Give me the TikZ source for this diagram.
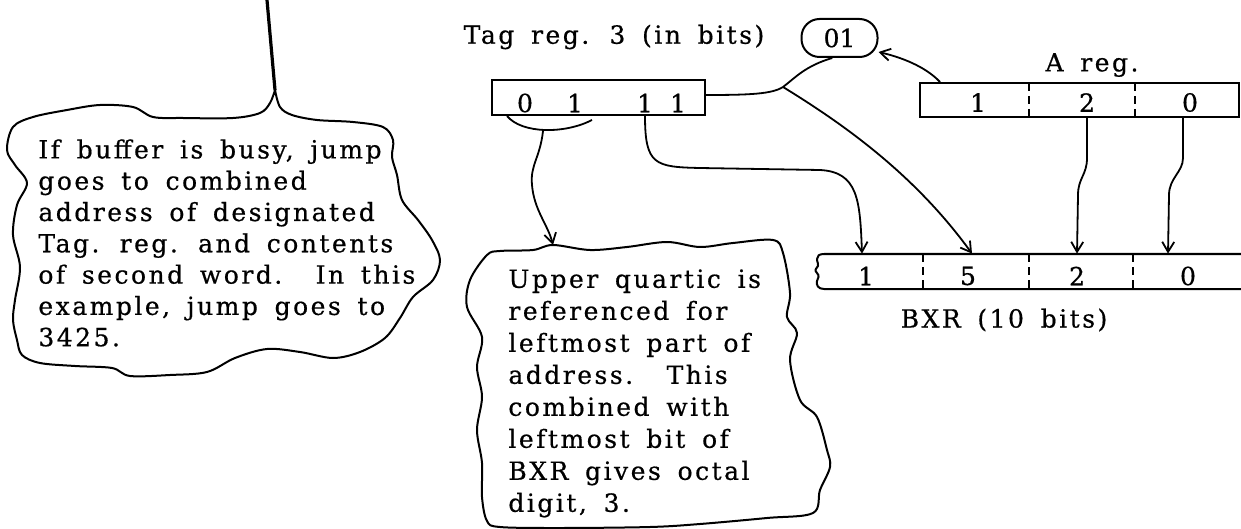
\documentclass[tikz,border=0pt]{standalone}
\usepackage{fontspec}
\usetikzlibrary{arrows.meta}
\newfontfamily\typeface[LetterSpace=10,WordSpace=1.6,FakeBold=0.6]{DejaVu Serif}
\begin{document}
\begin{tikzpicture}[x=0.5pt,y=-0.5pt,
  every node/.style={font=\typeface\fontsize{12.5}{15.65}\selectfont, inner sep=0pt},
  regbox/.style={draw, line width=1pt, minimum height=17.5pt},
  regpill/.style={draw, line width=1pt, rounded corners=9pt, minimum width=38pt, minimum height=19pt},
  wire/.style={line width=0.9pt},
  arr/.style={wire, -{Straight Barb[length=5pt,width=6pt]}},
  outline/.style={line width=1pt, line join=round, line cap=round},
  divider/.style={line width=0.8pt, dash pattern=on 4pt off 2.5pt},
  note/.style={align=left, anchor=north west}
]
\useasboundingbox (0,0) rectangle (1241,529);

% ---- tag register ----
\node (taglabel) at (614,37) {Tag reg. 3 (in bits)};
\node[regbox, minimum width=106.5pt] (tag) at (598.5,97.5) {};
\node (t1) at (525,103) {0};
\node (t2) at (575,103) {1};
\node (t3) at (645,103) {1};
\node (t4) at (678,103) {1};

% ---- designated tag value ----
\node[regpill] (reg01) at (839.5,38) {\addfontfeature{LetterSpace=0}01};

% ---- A register ----
\node (alabel) at (1092,65) {A reg.};
\node[regbox, minimum width=159.5pt, minimum height=17pt] (areg) at (1079.5,100) {};
\node (a1) at (978,102.5) {1};
\node (a2) at (1087,102.5) {2};
\node (a3) at (1190,102.5) {0};
\draw[divider] (1029,83) -- (1029,117);
\draw[divider] (1135,83) -- (1135,117);

% ---- BXR (open on the right, torn on the left) ----
\node[minimum width=212pt, minimum height=17.5pt] (bxr) at (1029,271.5) {};
\draw[outline] (1241,254) -- (824,254)
  .. controls (819,254) and (817,256) .. (817,259)
  .. controls (817,263) and (819,264) .. (818,266)
  .. controls (816,269) and (814,270) .. (817,273)
  .. controls (820,276) and (818,278) .. (817,281)
  .. controls (816,285) and (818,289) .. (824,289) -- (1241,289);
\draw[divider] (923,254) -- (923,289);
\draw[divider] (1029,254) -- (1029,289);
\draw[divider] (1133,254) -- (1133,289);
\node (b1) at (866,276) {1};
\node (b2) at (968,276) {5};
\node (b3) at (1077,276) {2};
\node (b4) at (1188,276) {0};
\node (bxrlabel) at (1004,320) {BXR (10 bits)};

% ---- note: buffer busy ----
\draw[outline, line width=1.6pt] (267,0) -- (275,90);
\draw[outline] plot[smooth, tension=0.55] coordinates {
  (275,90) (280,107) (292,115) (317,120) (353,122) (383,127) (393,140)
  (392,157) (397,175) (402,200) (418,220) (432,240) (440,260) (433,280)
  (413,297) (400,318) (385,338) (360,352) (333,358) (300,352) (267,349)
  (235,358) (207,372) (170,375) (130,376) (112,368) (75,366) (40,363)
  (22,355) (17,340) (13,320) (15,300) (20,267) (13,235) (17,205)
  (27,183) (15,165) (7,150) (13,127) (33,117) (67,110) (100,105)
  (133,107) (153,117) (183,118) (233,118) (260,113) (270,103) (275,90)};
\node[note] (busy) at (38,139) {If buffer is busy, jump\\goes to combined\\address of designated\\Tag. reg. and contents\\of second word.\ \ In this\\example, jump goes to\\3425.};

% ---- note: upper quartic ----
\draw[outline] plot[smooth cycle, tension=0.55] coordinates {
  (487,255) (500,251) (533,250) (553,245) (590,250) (627,247) (667,242)
  (700,247) (733,243) (773,240) (783,253) (790,293) (787,317) (797,333)
  (790,360) (800,400) (817,417) (827,450) (830,467) (820,490) (813,513)
  (767,518) (700,524) (650,527) (560,528) (500,527) (487,521) (482,497)
  (482,463) (477,430) (482,397) (477,367) (482,337) (467,307) (470,280)};
\coordinate (uqtop) at (553,245);
\node[note, font=\typeface\fontsize{12.5}{16}\selectfont] (quartic) at (508,269) {Upper quartic is\\referenced for\\leftmost part of\\address.\ \ This\\combined with\\leftmost bit of\\BXR gives octal\\digit, 3.};

% ---- bracket under the upper two bits ----
\draw[wire] (507,116) .. controls (522,134) and (565,134) .. (592,120);
\coordinate (brk) at (543,131);

% ---- connectors ----
\coordinate (br) at (783,87);
\draw[wire] (tag.east |- 0,95) .. controls (750,95) and (772,94) .. (br)
  .. controls (795,78) and (805,66) .. (reg01.250);
\draw[arr] (br) .. controls (845,125) and (915,175) .. ([xshift=2pt]b2 |- bxr.north);
\draw[arr] (areg.north west -| 940,0) .. controls (925,66) and (900,57) .. (reg01.east |- 0,52);
\draw[arr] (t3 |- tag.south) .. controls (645,165) and (655,167) .. (700,168)
  -- (820,170) .. controls (858,172) and (860,200) .. ([xshift=-2pt]b1 |- bxr.north);
\draw[arr] (a2 |- areg.south) -- (1087,158) .. controls (1087,175) and (1078,178) .. (1078,195)
  -- (b3 |- bxr.north);
\draw[arr] ([xshift=-3.5pt]a3 |- areg.south) -- (1183,158) .. controls (1183,172) and (1169,178) .. (1169,195)
  -- ([xshift=-10pt]b4 |- bxr.north);
\draw[arr] (brk) .. controls (540,158) and (530,165) .. (532,185)
  .. controls (534,210) and (548,225) .. (uqtop);
\end{tikzpicture}
\end{document}
